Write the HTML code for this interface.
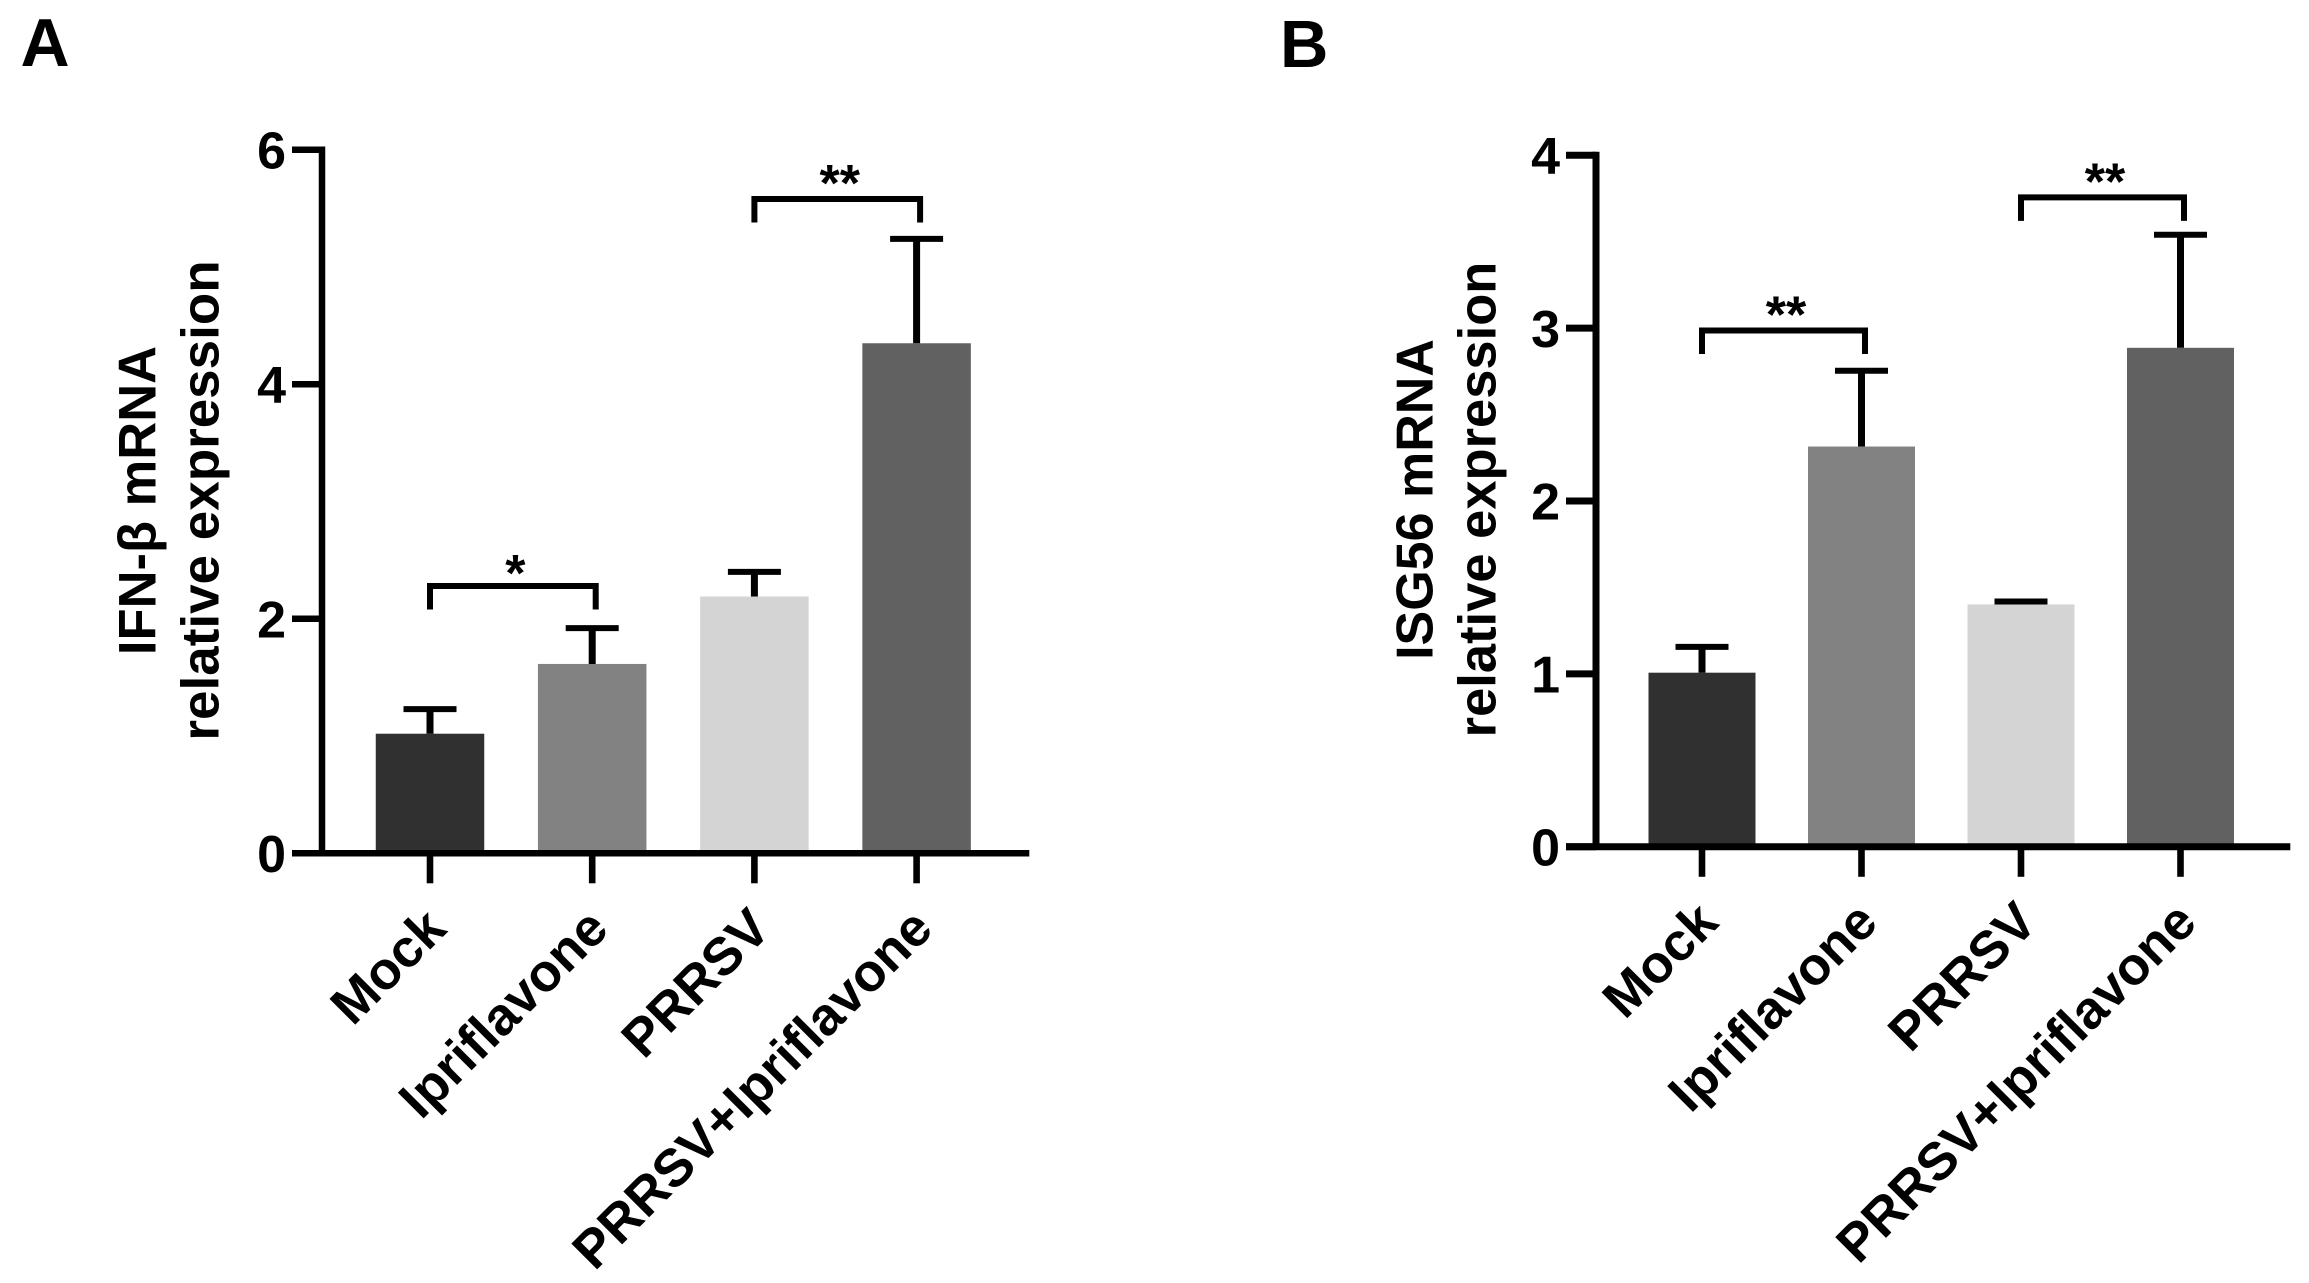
<!DOCTYPE html>
<html lang="en">
<head>
<meta charset="utf-8">
<title>IFN-β and ISG56 mRNA relative expression</title>
<style>
html,body{margin:0;padding:0;background:#fff;width:2309px;height:1283px;overflow:hidden}
svg{display:block}
text{font-family:"Liberation Sans",Arial,sans-serif;font-weight:700;fill:#000}
</style>
</head>
<body>
<svg id="figure" xmlns="http://www.w3.org/2000/svg" width="2309" height="1283" viewBox="0 0 2309 1283">
<rect x="0" y="0" width="2309" height="1283" fill="#ffffff"/>
<text x="20.5" y="66" font-size="68">A</text>
<text x="1280" y="67" font-size="67">B</text>
<g id="panelA"></g>
<g id="panelB"></g>
</svg>
<script>
const categories = ["Mock", "Ipriflavone", "PRRSV", "PRRSV+Ipriflavone"];
const barColors = ["#303030", "#828282", "#d4d4d4", "#616161"];

const ticksA = [0, 2, 4, 6];
const meansA = [1.02, 1.615, 2.19, 4.35];
const errorTopsA = [1.23, 1.92, 2.40, 5.24];
const bracketFromA = [0, 2];
const bracketToA = [1, 3];
const bracketLevelsA = [2.28, 5.58];
const bracketMarksA = ["*", "**"];
const titleLinesA = ["IFN-β mRNA", "relative expression"];

const ticksB = [0, 1, 2, 3, 4];
const meansB = [1.007, 2.315, 1.402, 2.886];
const errorTopsB = [1.156, 2.753, 1.419, 3.54];
const bracketFromB = [0, 2];
const bracketToB = [1, 3];
const bracketLevelsB = [2.986, 3.756];
const bracketMarksB = ["**", "**"];
const titleLinesB = ["ISG56 mRNA", "relative expression"];

const NS = "http://www.w3.org/2000/svg";

function make(parent, tag, attrs, content) {
  const el = document.createElementNS(NS, tag);
  for (const key in attrs) el.setAttribute(key, attrs[key]);
  if (content !== undefined) el.textContent = content;
  parent.appendChild(el);
  return el;
}

function drawPanel(root, cfg, ticks, means, errorTops, bFrom, bTo, bLevels, bMarks, titles) {
  const y = v => cfg.y0 - v * cfg.unit;
  const x = i => cfg.x0 + i * cfg.step;
  const barW = cfg.barW;

  means.forEach((m, i) => {
    const bar = make(root, "rect", { x: x(i) - barW / 2, y: y(m), width: barW, height: y(0) - y(m), fill: barColors[i % barColors.length] });
    
    
  });

  errorTops.forEach((t, i) => {
    const stem = make(root, "line", { x1: x(i), x2: x(i), y1: y(means[i]), y2: y(t), stroke: "#000", "stroke-width": 7 });
    
    
    const cap = make(root, "line", { x1: x(i) - 26.5, x2: x(i) + 26.5, y1: y(t), y2: y(t), stroke: "#000", "stroke-width": 6 });
    
    
  });

  const yAxis = make(root, "line", { x1: cfg.axisX, x2: cfg.axisX, y1: y(ticks[ticks.length - 1]) - cfg.axisW / 2, y2: y(0), stroke: "#000", "stroke-width": cfg.axisW });
  
  

  const xAxis = make(root, "line", { x1: cfg.axisX - 30, x2: cfg.axisEnd, y1: y(0), y2: y(0), stroke: "#000", "stroke-width": cfg.axisW });
  
  

  ticks.forEach(t => {
    const mark = make(root, "line", { x1: cfg.axisX - 30, x2: cfg.axisX, y1: y(t), y2: y(t), stroke: "#000", "stroke-width": cfg.axisW });
    
    
    const label = make(root, "text", { x: cfg.axisX - 36, y: y(t) + 18.7, "text-anchor": "end", "font-size": 52 }, String(t));
    
    
  });

  categories.forEach((c, i) => {
    const mark = make(root, "line", { x1: x(i), x2: x(i), y1: y(0), y2: y(0) + 30, stroke: "#000", "stroke-width": 6.6 });
    
    
    const ax = x(i) + 18.5;
    const ay = y(0) + 78;
    const label = make(root, "text", { x: ax, y: ay, "text-anchor": "end", "font-size": 53, transform: "rotate(-45 " + ax + " " + ay + ")" }, c);
    
    
  });

  bLevels.forEach((lv, k) => {
    const x1 = x(bFrom[k]), x2 = x(bTo[k]) + 3.5;
    const top = y(lv);
    const path = make(root, "path", { d: "M" + x1 + " " + (top + 23.5) + "V" + top + "H" + x2 + "V" + (top + 23.5), fill: "none", stroke: "#000", "stroke-width": 6 });
    
    
    const starY = bMarks[k].length === 1 ? top + 5 : top + 2;
    const star = make(root, "text", { x: (x1 + x2) / 2 + 2.5, y: starY, "text-anchor": "middle", "font-size": 52 }, bMarks[k]);
    
    
  });

  titles.forEach((line, k) => {
    const tx = cfg.titleX[k], ty = cfg.titleY;
    const title = make(root, "text", { x: tx, y: ty, "text-anchor": "middle", "font-size": cfg.titleSize[k], transform: "rotate(-90 " + tx + " " + ty + ")" }, line);
    
    
  });
}

drawPanel(document.getElementById("panelA"),
  { x0: 430, step: 162.2, y0: 853.3, unit: 117.25, barW: 108.5, axisX: 322, axisW: 6.5, axisEnd: 1029.3, titleX: [155.5, 218.3], titleSize: [52.5, 53], titleY: 500.5 },
  ticksA, meansA, errorTopsA, bracketFromA, bracketToA, bracketLevelsA, bracketMarksA, titleLinesA);

drawPanel(document.getElementById("panelB"),
  { x0: 1702, step: 159.5, y0: 846.8, unit: 172.9, barW: 107, axisX: 1596, axisW: 7, axisEnd: 2290.3, titleX: [1432.5, 1495.5], titleSize: [52, 52.5], titleY: 499.5 },
  ticksB, meansB, errorTopsB, bracketFromB, bracketToB, bracketLevelsB, bracketMarksB, titleLinesB);
</script>
</body>
</html>
